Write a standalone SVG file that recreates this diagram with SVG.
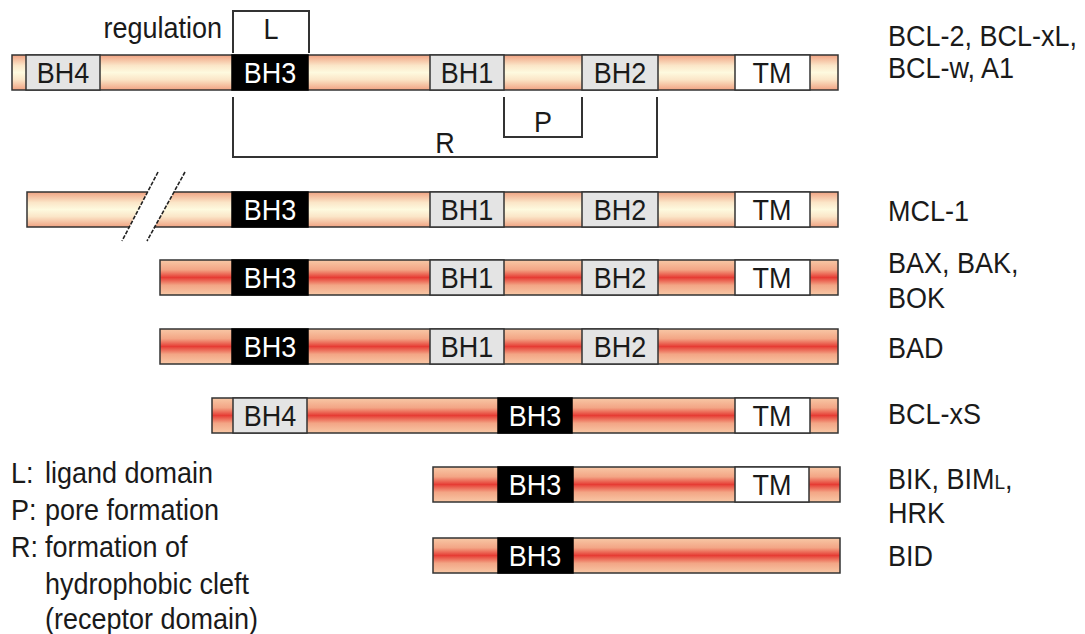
<svg xmlns="http://www.w3.org/2000/svg" width="1085" height="634" viewBox="0 0 1085 634">
<defs>
<linearGradient id="pale" x1="0" y1="0" x2="0" y2="1">
<stop offset="0" stop-color="#f0a282"/>
<stop offset="0.3" stop-color="#fbe6c8"/>
<stop offset="0.5" stop-color="#fefadf"/>
<stop offset="0.7" stop-color="#fbe6c8"/>
<stop offset="1" stop-color="#f0a282"/>
</linearGradient>
<linearGradient id="red" x1="0" y1="0" x2="0" y2="1">
<stop offset="0" stop-color="#f8c8a6"/>
<stop offset="0.28" stop-color="#f3a585"/>
<stop offset="0.5" stop-color="#e63c34"/>
<stop offset="0.72" stop-color="#f3a585"/>
<stop offset="1" stop-color="#f8c8a6"/>
</linearGradient>
<style>
.bar{stroke:#333;stroke-width:1.5}
.pale{fill:url(#pale)}
.red{fill:url(#red)}
.g{fill:#e4e4e4;stroke:#333;stroke-width:1.5}
.k{fill:#000;stroke:#000;stroke-width:1.5}
.w{fill:#fff;stroke:#333;stroke-width:1.5}
.edge{fill:none;stroke:#333;stroke-width:1.5}
.t{font-family:"Liberation Sans",Arial,sans-serif;font-size:27px;fill:#1a1a1a;transform-box:fill-box;transform-origin:center;transform:scaleY(1.08)}
.c{text-anchor:middle}
.e{text-anchor:end}
.wt{fill:#fff}
.br{fill:none;stroke:#333;stroke-width:2}
.dash{fill:none;stroke:#222;stroke-width:1.6;stroke-dasharray:4 1.5}
</style>
</defs>
<rect width="1085" height="634" fill="#fff"/>

<g id="bcl2">
<rect class="bar pale" x="12" y="55" width="826" height="35"/>
<rect class="g" x="26" y="55" width="74" height="35"/>
<rect class="k" x="232" y="55" width="76" height="35"/>
<rect class="g" x="430" y="55" width="74" height="35"/>
<rect class="g" x="582" y="55" width="76" height="35"/>
<rect class="w" x="735" y="55" width="75" height="35"/>
<text class="t c" x="63" y="82">BH4</text>
<text class="t c wt" x="270" y="82">BH3</text>
<text class="t c" x="467" y="82">BH1</text>
<text class="t c" x="620" y="82">BH2</text>
<text class="t c" x="772" y="82">TM</text>
<text class="t" x="888" y="45">BCL-2, BCL-xL,</text>
<text class="t" x="888" y="77">BCL-w, A1</text>
</g>

<g id="annotations">
<polyline class="br" points="233,53 233,11 309,11 309,53"/>
<polyline class="br" points="233,97 233,157 657,157 657,97"/>
<polyline class="br" points="504,97 504,137 582,137 582,97"/>
<text class="t e" x="222" y="37">regulation</text>
<text class="t c" x="271" y="38">L</text>
<text class="t c" x="543" y="131">P</text>
<text class="t c" x="445" y="152">R</text>
</g>

<g id="mcl1">
<polygon class="pale" points="27,192 147.6,192 129.3,227 27,227"/>
<polygon class="pale" points="174,192 838,192 838,227 154.7,227"/>
<path class="edge" d="M147.6,192 H27 V227 H129.3"/>
<path class="edge" d="M174,192 H838 V227 H154.7"/>
<line class="dash" x1="158" y1="172" x2="122" y2="241"/>
<line class="dash" x1="185" y1="172" x2="147" y2="241"/>
<rect class="k" x="232" y="192" width="76" height="35"/>
<rect class="g" x="430" y="192" width="74" height="35"/>
<rect class="g" x="582" y="192" width="76" height="35"/>
<rect class="w" x="735" y="192" width="75" height="35"/>
<text class="t c wt" x="270" y="219">BH3</text>
<text class="t c" x="467" y="219">BH1</text>
<text class="t c" x="620" y="219">BH2</text>
<text class="t c" x="772" y="219">TM</text>
<text class="t" x="888" y="220">MCL-1</text>
</g>

<g id="bax">
<rect class="bar red" x="160" y="260" width="678" height="35"/>
<rect class="k" x="232" y="260" width="76" height="35"/>
<rect class="g" x="430" y="260" width="74" height="35"/>
<rect class="g" x="582" y="260" width="76" height="35"/>
<rect class="w" x="735" y="260" width="75" height="35"/>
<text class="t c wt" x="270" y="287">BH3</text>
<text class="t c" x="467" y="287">BH1</text>
<text class="t c" x="620" y="287">BH2</text>
<text class="t c" x="772" y="287">TM</text>
<text class="t" x="888" y="272">BAX, BAK,</text>
<text class="t" x="888" y="307">BOK</text>
</g>

<g id="bad">
<rect class="bar red" x="160" y="329" width="678" height="35"/>
<rect class="k" x="232" y="329" width="76" height="35"/>
<rect class="g" x="430" y="329" width="74" height="35"/>
<rect class="g" x="582" y="329" width="76" height="35"/>
<text class="t c wt" x="270" y="356">BH3</text>
<text class="t c" x="467" y="356">BH1</text>
<text class="t c" x="620" y="356">BH2</text>
<text class="t" x="888" y="357">BAD</text>
</g>

<g id="bclxs">
<rect class="bar red" x="212" y="398" width="626" height="35"/>
<rect class="g" x="233" y="398" width="74" height="35"/>
<rect class="k" x="498" y="398" width="74" height="35"/>
<rect class="w" x="735" y="398" width="75" height="35"/>
<text class="t c" x="270" y="425">BH4</text>
<text class="t c wt" x="535" y="425">BH3</text>
<text class="t c" x="772" y="425">TM</text>
<text class="t" x="888" y="423">BCL-xS</text>
</g>

<g id="bik">
<rect class="bar red" x="433" y="467" width="407" height="35"/>
<rect class="k" x="498" y="467" width="75" height="35"/>
<rect class="w" x="735" y="467" width="74" height="35"/>
<text class="t c wt" x="535" y="494">BH3</text>
<text class="t c" x="772" y="494">TM</text>
<text class="t" x="888" y="488">BIK, BIM<tspan font-size="19">L</tspan>,</text>
<text class="t" x="888" y="522">HRK</text>
</g>

<g id="bid">
<rect class="bar red" x="433" y="538" width="407" height="35"/>
<rect class="k" x="498" y="538" width="75" height="35"/>
<text class="t c wt" x="535" y="565">BH3</text>
<text class="t" x="888" y="565">BID</text>
</g>

<g id="legend">
<text class="t" x="11" y="482">L:</text>
<text class="t" x="45" y="482">ligand domain</text>
<text class="t" x="11" y="519">P:</text>
<text class="t" x="45" y="519">pore formation</text>
<text class="t" x="11" y="556">R:</text>
<text class="t" x="45" y="556">formation of</text>
<text class="t" x="45" y="593">hydrophobic cleft</text>
<text class="t" x="45" y="628">(receptor domain)</text>
</g>
</svg>
